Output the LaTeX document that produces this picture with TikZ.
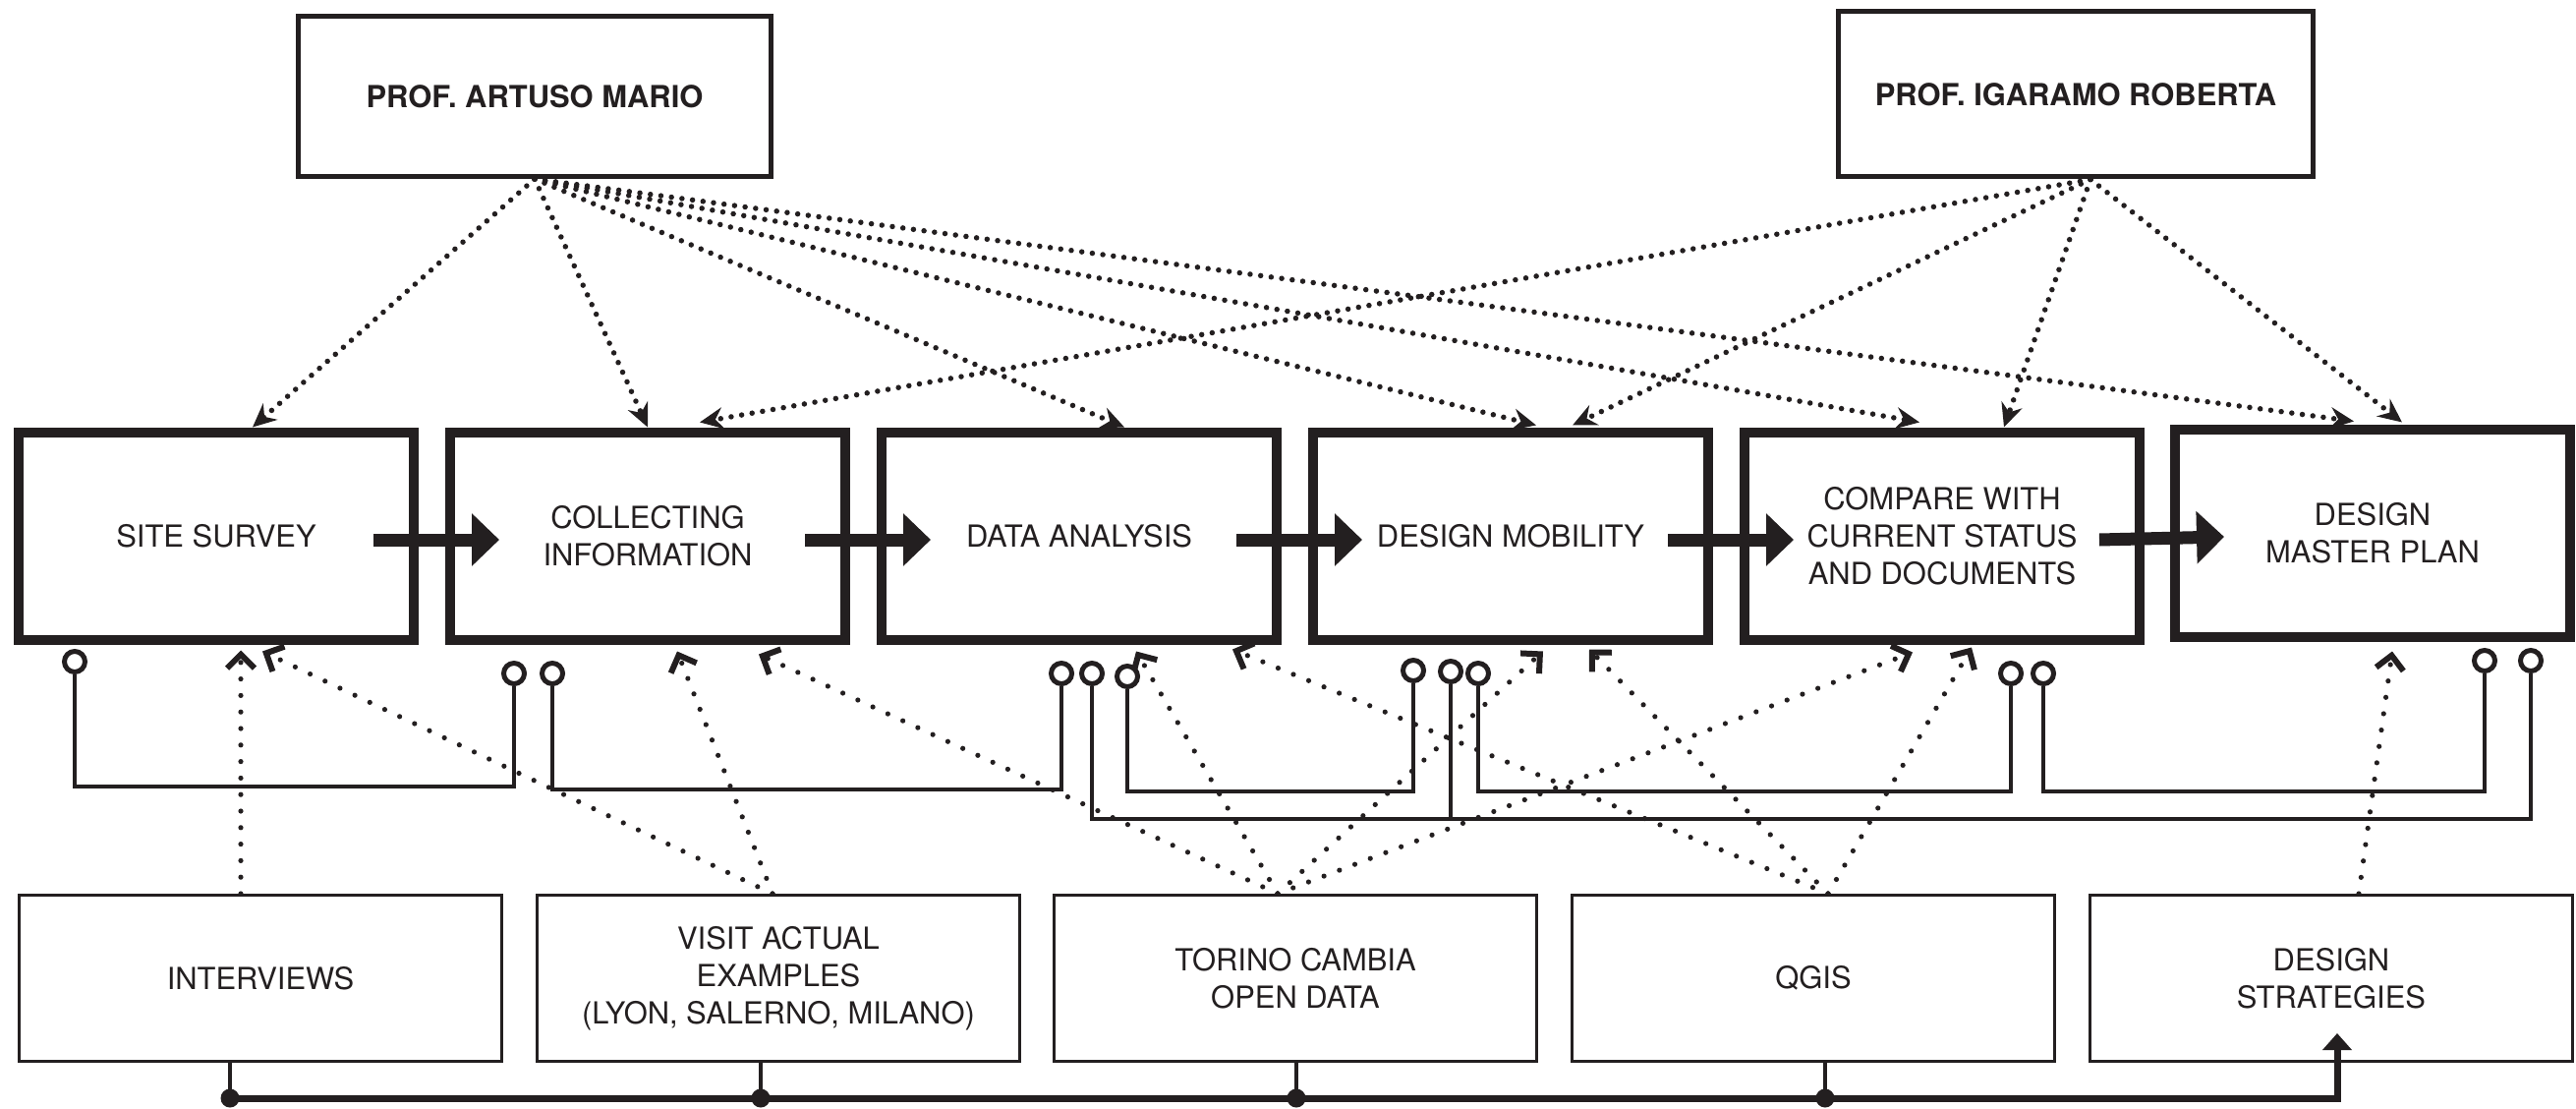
\documentclass[tikz,border=0pt]{standalone}
\usepackage{fontspec}
\setmainfont{TeX Gyre Heros}
\usetikzlibrary{arrows.meta}
\definecolor{ink}{HTML}{231F20}
\newcommand{\boxfont}{\fontsize{8.8pt}{10.8pt}\selectfont}
\tikzset{
  profbox/.style={draw=ink,line width=0.5mm,minimum width=48.1mm,minimum height=16.3mm,font=\boxfont\bfseries,text=ink},
  stagebox/.style={draw=ink,line width=1mm,minimum width=40.2mm,minimum height=21.1mm,align=center,font=\boxfont,text=ink},
  srcbox/.style={draw=ink,line width=0.3mm,minimum width=49.1mm,minimum height=16.9mm,align=center,font=\boxfont,text=ink},
  flow/.style={draw=ink,line width=1.3mm,-{Triangle[length=2.8mm,width=5.2mm]}},
  advice/.style={draw=ink,line width=0.55mm,line cap=round,dash pattern=on 0pt off 1.08mm,-{Stealth[length=2.4mm,width=2.2mm,inset=0.8mm]}},
  feed/.style={draw=ink,line width=0.52mm,line cap=round,dash pattern=on 0pt off 1.68mm,-{Straight Barb[length=1.4mm,width=2.8mm,line width=0.6mm]}},
  lolly/.style={circle,draw=ink,fill=white,line width=0.5mm,inner sep=0pt,minimum size=2.1mm},
  backline/.style={draw=ink,line width=0.4mm},
  joint/.style={circle,fill=ink,inner sep=0pt,minimum size=1.9mm},
  drop/.style={draw=ink,line width=0.4mm},
  bus/.style={draw=ink,line width=0.7mm,-{Triangle[length=1.7mm,width=2.9mm]}}
}
\begin{document}
\begin{tikzpicture}[x=0.1mm,y=-0.1mm]
\useasboundingbox (0,0) rectangle (2621,1128);
\node[profbox] (art) at (544,98) {PROF. ARTUSO MARIO};
\node[profbox,minimum width=48.3mm,minimum height=16.8mm] (iga) at (2112,96) {PROF. IGARAMO ROBERTA};
\node[stagebox] (ss) at (220,545) {SITE SURVEY};
\node[stagebox] (ci) at (659,545) {COLLECTING\\INFORMATION};
\node[stagebox] (da) at (1098,545) {DATA ANALYSIS};
\node[stagebox] (dm) at (1537,545) {DESIGN MOBILITY};
\node[stagebox] (cs) at (1976,545) {COMPARE WITH\\CURRENT STATUS\\AND DOCUMENTS};
\node[stagebox] (mp) at (2414,542) {DESIGN\\MASTER PLAN};
\node[srcbox] (iv) at (265,995) {INTERVIEWS};
\node[srcbox] (va) at (792,995) {VISIT ACTUAL\\EXAMPLES\\(LYON, SALERNO, MILANO)};
\node[srcbox] (tc) at (1318,995) {TORINO CAMBIA\\OPEN DATA};
\node[srcbox] (qg) at (1845,995) {QGIS};
\node[srcbox] (ds) at (2372,995) {DESIGN\\STRATEGIES};
\foreach \a/\b in {ss/ci,ci/da,da/dm,dm/cs,cs/mp}
  \draw[flow] ([shift={(-46,4)}]\a.east) -- ([shift={(55,4)}]\b.west);
\draw[advice] (art.south) -- ([shift={(37,0)}]ss.north);
\draw[advice] (art.south) -- (ci.north);
\draw[advice] (art.south) -- ([shift={(46,0)}]da.north);
\draw[advice] (art.south) -- ([shift={(26,-2)}]dm.north);
\draw[advice] (art.south) -- ([shift={(-23,-5)}]cs.north);
\draw[advice] (art.south) -- ([shift={(-19,-3)}]mp.north);
\draw[advice] ([shift={(15,0)}]iga.south) -- ([shift={(53,-5)}]ci.north);
\draw[advice] ([shift={(15,0)}]iga.south) -- ([shift={(63,-2)}]dm.north);
\draw[advice] ([shift={(15,0)}]iga.south) -- ([shift={(63,0)}]cs.north);
\draw[advice] ([shift={(15,0)}]iga.south) -- ([shift={(30,-2)}]mp.north);
\draw[feed] ([shift={(-20,0)}]iv.north) -- ([shift={(25,6)}]ss.south);
\draw[feed] ([shift={(-6,0)}]va.north) -- ([shift={(47,7)}]ss.south);
\draw[feed] ([shift={(-6,0)}]va.north) -- ([shift={(30,7)}]ci.south);
\draw[feed] ([shift={(-18,0)}]tc.north) -- ([shift={(113,10)}]ci.south);
\draw[feed] ([shift={(-18,0)}]tc.north) -- ([shift={(58,7)}]da.south);
\draw[feed] ([shift={(-18,0)}]tc.north) -- ([shift={(33,7)}]dm.south);
\draw[feed] ([shift={(-18,0)}]tc.north) -- ([shift={(-30,8)}]cs.south);
\draw[feed] ([shift={(15,0)}]qg.north) -- ([shift={(156,5)}]da.south);
\draw[feed] ([shift={(15,0)}]qg.north) -- ([shift={(80,5)}]dm.south);
\draw[feed] ([shift={(15,0)}]qg.north) -- ([shift={(30,3)}]cs.south);
\draw[feed] ([shift={(28,0)}]ds.north) -- ([shift={(20,10)}]mp.south);
\coordinate (lvA) at (0,800);
\coordinate (lvB) at (0,803);
\coordinate (lvC) at (0,805);
\coordinate (lvD) at (0,833);
\node[lolly] (l1a) at (76,673) {};
\node[lolly] (l1b) at (523,685) {};
\node[lolly] (l2a) at (562,685) {};
\node[lolly] (l2b) at (1080,685) {};
\node[lolly] (l3a) at (1111,685) {};
\node[lolly] (l3m) at (1476,683) {};
\node[lolly] (l3b) at (2575,672) {};
\node[lolly] (l4a) at (1147,688) {};
\node[lolly] (l4b) at (1438,682) {};
\node[lolly] (l5a) at (1504,685) {};
\node[lolly] (l5b) at (2046,685) {};
\node[lolly] (l6a) at (2079,685) {};
\node[lolly] (l6b) at (2528,672) {};
\draw[backline] (l1a) -- (l1a |- lvA) -| (l1b);
\draw[backline] (l2a) -- (l2a |- lvB) -| (l2b);
\draw[backline] (l3a) -- (l3a |- lvD) -| (l3b);
\draw[backline] (l3m) -- (l3m |- lvD);
\draw[backline] (l4a) -- (l4a |- lvC) -| (l4b);
\draw[backline] (l5a) -- (l5a |- lvC) -| (l5b);
\draw[backline] (l6a) -- (l6a |- lvC) -| (l6b);
\node[joint] (j1) at (234,1117) {};
\node[joint] (j2) at (774,1117) {};
\node[joint] (j3) at (1319,1117) {};
\node[joint] (j4) at (1857,1117) {};
\coordinate (dstip) at ([shift={(6,-30)}]ds.south);
\draw[drop] (iv.south -| j1) -- (j1.center);
\draw[drop] (va.south -| j2) -- (j2.center);
\draw[drop] (tc.south -| j3) -- (j3.center);
\draw[drop] (qg.south -| j4) -- (j4.center);
\draw[bus] (j1.center) -| (dstip);
\end{tikzpicture}
\end{document}
